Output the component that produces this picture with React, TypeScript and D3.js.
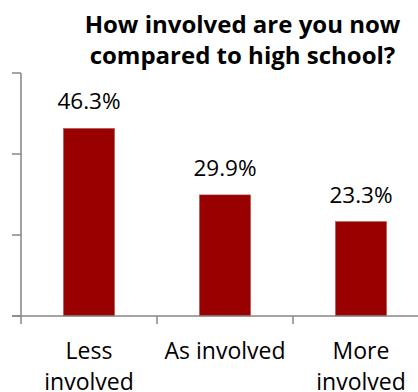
import React from "react";
import * as d3 from "d3";

const categories = ["Less involved", "As involved", "More involved"];
const categoryLines = [["Less", "involved"], ["As involved"], ["More", "involved"]];
const values = [46.3, 29.9, 23.3];
const valueLabels = ["46.3%", "29.9%", "23.3%"];
const yTicks = [0, 20, 40, 60];
const titleLines = ["How involved are you now", "compared to high school?"];

const W = 418;
const H = 392;
const FONT = "'Open Sans', Lato, sans-serif";

export default function App() {
  const x = d3.scaleBand<string>().domain(categories).range([21, 429]).padding(0);
  const y = d3.scaleLinear().domain([0, 60]).range([316, 73]);
  const bw = x.bandwidth() * 0.375;
  const axisColor = "#868686";
  const barColor = "#990000";
  const xTickPos = [...categories.map((c) => x(c)!), x.range()[1]];

  return (
    <svg width={W} height={H} style={{ position: "fixed", left: 0, top: 0, background: "#fff" }}>
      {titleLines.map((t, i) => (
        <text key={i} x={242.5} y={33 + i * 31} textAnchor="middle" fontFamily={FONT} fontWeight="bold" fontSize={24} fill="#000">
          {t}
        </text>
      ))}
      <line x1={21} x2={21} y1={y(60)} y2={y(0)} stroke={axisColor} strokeWidth={1.5} />
      {yTicks.map((t) => (
        <line key={t} x1={12} x2={21} y1={y(t)} y2={y(t)} stroke={axisColor} strokeWidth={1.5} />
      ))}
      {categories.map((c, i) => {
        const cx = x(c)! + x.bandwidth() / 2;
        return (
          <g key={c}>
            <rect x={cx - bw / 2} y={y(values[i])} width={bw} height={y(0) - y(values[i])} fill={barColor} stroke="#b04040" strokeWidth={0.5} />
            <text x={cx} y={y(values[i]) - 19} textAnchor="middle" fontFamily={FONT} fontSize={22.5} fill="#000">
              {valueLabels[i]}
            </text>
            {categoryLines[i].map((l, j) => (
              <text key={j} x={cx} y={359 + j * 31} textAnchor="middle" fontFamily={FONT} fontSize={23} fill="#000">
                {l}
              </text>
            ))}
          </g>
        );
      })}
      <line x1={12} x2={W} y1={y(0)} y2={y(0)} stroke={axisColor} strokeWidth={1.5} />
      {xTickPos.map((p, i) => (
        <line key={i} x1={p} x2={p} y1={y(0)} y2={324} stroke={axisColor} strokeWidth={1.5} />
      ))}
    </svg>
  );
}
